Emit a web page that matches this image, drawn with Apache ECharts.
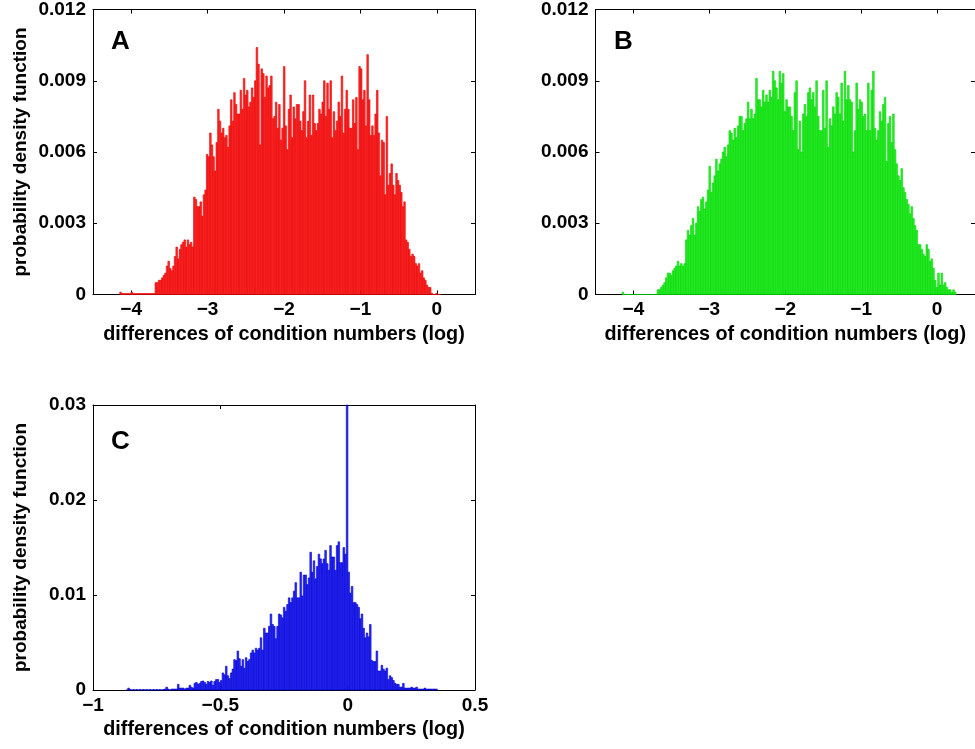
<!DOCTYPE html>
<html>

<head>
  <meta charset="utf-8">
  <title>condition numbers</title>
  <script src="https://cdn.jsdelivr.net/npm/echarts@6/dist/echarts.min.js"></script>
  <style>
    html, body { margin: 0; padding: 0; background: #fff; }
    #chart { width: 975px; height: 749px; }
  </style>
</head>

<body>
  <div id="chart"></div>
  <script type="text/javascript">
    // histogram A (red): 200 bins starting at -4.15
    var binStartA = -4.15, binWidthA = 0.021;
    var pdfA = [
      0.0001, 0.00004, 0.00004, 0.00004, 0.00004, 0.00004, 0.00004, 0.0001, 0.00004, 0.00004,
      0.00004, 0.00004, 0.00004, 0.00004, 0.00004, 0.00004, 0.00004, 0.00004, 0.00004, 0.00004,
      0.00004, 0.00004,
      0.0005, 0.0005, 0.0006, 0.0006, 0.0007, 0.0008, 0.0009, 0.0012, 0.0014, 0.0011,
      0.0010, 0.0012, 0.0016, 0.0020, 0.0015, 0.0019, 0.0021, 0.0022, 0.0023, 0.0020,
      0.0023, 0.0021, 0.0022, 0.0020,
      0.0041, 0.0040, 0.0037, 0.0037, 0.0039, 0.0033, 0.0042, 0.0044,
      0.0059, 0.0058, 0.0068, 0.0063, 0.0058, 0.0052, 0.0064, 0.0078, 0.0073, 0.0068,
      0.0070, 0.0066, 0.0067, 0.0062, 0.0071, 0.0082, 0.0073, 0.0085, 0.0080, 0.0076,
      0.0076, 0.0086, 0.0078, 0.0091, 0.0084, 0.0086, 0.0079, 0.0081, 0.0087, 0.0083,
      0.0090, 0.0104,
      0.0097, 0.0063, 0.0095, 0.0093, 0.0083, 0.0092, 0.0087, 0.0088, 0.0092, 0.0074,
      0.0075, 0.0081, 0.0070, 0.0080, 0.0065, 0.0070, 0.0096,
      0.0071, 0.0061, 0.0078, 0.0084, 0.0066, 0.0079, 0.0074, 0.0080, 0.0080, 0.0073,
      0.0069, 0.0077, 0.0090, 0.0066, 0.0073, 0.0084, 0.0067, 0.0084, 0.0072, 0.0069,
      0.0072, 0.0078, 0.0076, 0.0081, 0.0090, 0.0075, 0.0089, 0.0078, 0.0090, 0.0066,
      0.0077, 0.0069, 0.0073, 0.0081, 0.0075, 0.0092, 0.0068, 0.0078, 0.0086, 0.0078,
      0.0070, 0.0070, 0.0082, 0.0072, 0.0083, 0.0061, 0.0096, 0.0095,
      0.0082, 0.0086, 0.0071, 0.0101, 0.0082, 0.0067, 0.0071, 0.0067, 0.0076, 0.0086,
      0.0068, 0.0050, 0.0065, 0.0064, 0.0042, 0.0075, 0.0046, 0.0051, 0.0055, 0.0046,
      0.0042, 0.0051, 0.0048, 0.0046, 0.0043, 0.0037, 0.0039,
      0.0023, 0.0022, 0.0019, 0.0016, 0.0017, 0.0016, 0.0013, 0.0012, 0.0013, 0.0009,
      0.0010, 0.0007, 0.0006, 0.0004, 0.0003, 0.0003,
      0.00005, 0, 0, 0.00005, 0, 0
    ];

    // histogram B (green): 200 bins starting at -4.15
    var binStartB = -4.15, binWidthB = 0.022;
    var pdfB = [
      0.0001, 0, 0, 0, 0, 0, 0, 0, 0, 0,
      0, 0, 0, 0, 0, 0, 0, 0, 0, 0,
      0,
      0.0002, 0.0002, 0.0003, 0.0004, 0.0005, 0.0007, 0.0009, 0.0009, 0.0008, 0.0010,
      0.0011, 0.0012, 0.0014, 0.0012, 0.0013, 0.0012, 0.0013,
      0.0023, 0.0027, 0.0025, 0.0029, 0.0032, 0.0025, 0.0030, 0.0037, 0.0035, 0.0040,
      0.0041, 0.0036, 0.0039, 0.0044,
      0.0054, 0.0043, 0.0047, 0.0050, 0.0057, 0.0052, 0.0055, 0.0057, 0.0060, 0.0062,
      0.0058, 0.0063, 0.0069, 0.0068, 0.0065, 0.0070, 0.0066, 0.0071, 0.0075, 0.0075,
      0.0069, 0.0072, 0.0074, 0.0081, 0.0074, 0.0078, 0.0074, 0.0076,
      0.0091, 0.0082, 0.0082, 0.0079, 0.0086, 0.0081, 0.0084, 0.0081, 0.0086, 0.0083,
      0.0094, 0.0090, 0.0087, 0.0082,
      0.0094, 0.0089, 0.0093, 0.0077, 0.0082, 0.0079, 0.0079, 0.0075, 0.0069, 0.0085,
      0.0090, 0.0061, 0.0073, 0.0060, 0.0076, 0.0080, 0.0075, 0.0085, 0.0087, 0.0082,
      0.0085, 0.0079, 0.0090, 0.0075, 0.0069, 0.0069, 0.0086, 0.0070, 0.0090, 0.0062,
      0.0074, 0.0071, 0.0079, 0.0076, 0.0085, 0.0083, 0.0076, 0.0089, 0.0073, 0.0094,
      0.0082, 0.0088, 0.0082, 0.0081, 0.0060, 0.0069, 0.0089, 0.0078, 0.0082, 0.0081,
      0.0075, 0.0076, 0.0069, 0.0089, 0.0069, 0.0086, 0.0094, 0.0070, 0.0065, 0.0069,
      0.0077, 0.0073, 0.0080, 0.0083, 0.0056, 0.0072, 0.0075, 0.0064, 0.0076,
      0.0061, 0.0055, 0.0050, 0.0048, 0.0053, 0.0045, 0.0043, 0.0040, 0.0038, 0.0034,
      0.0037, 0.0032, 0.0029, 0.0027, 0.0021, 0.0021, 0.0019, 0.0017, 0.0016, 0.0021,
      0.0019, 0.0014, 0.0015, 0.0011, 0.0006, 0.0003, 0.0009, 0.0004, 0.0009, 0.0004,
      0.0005, 0.0003, 0.0002, 0.0002, 0.0001, 0.0002, 0.0001
    ];

    // histogram C (blue): bins starting at -0.87
    var binStartC = -0.87, binWidthC = 0.0065;
    var pdfC = [
      0, 0.0002, 0.00005, 0, 0.00005, 0, 0.00005, 0, 0.00005, 0,
      0.00005, 0, 0.00005, 0, 0.00005, 0, 0.00005, 0, 0.00005, 0,
      0.00005, 0, 0.00005, 0.0001, 0.0003, 0.0001, 0, 0.0001, 0.0001, 0.0001,
      0.0001, 0.0006, 0.0002, 0.0002, 0.0002, 0.0001, 0.0002, 0.0002, 0.0005, 0.0003,
      0.0002, 0.0007, 0.0008, 0.0006, 0.0007, 0.0009, 0.00095, 0.0008, 0.0006, 0.0009,
      0.0008, 0.00095, 0.0005, 0.0009, 0.0011, 0.0011, 0.0008, 0.0010, 0.0018, 0.0016,
      0.0025, 0.0015, 0.0012, 0.0018, 0.0022, 0.0032, 0.0031, 0.0041, 0.0033, 0.0025,
      0.0032, 0.0023, 0.0034, 0.0030, 0.0032, 0.0039, 0.0042, 0.0039, 0.0044, 0.0042,
      0.0044, 0.0055, 0.0042, 0.0065, 0.0060, 0.0060, 0.0067, 0.0080, 0.0069, 0.0067,
      0.0054, 0.0067, 0.0080, 0.0079, 0.0076, 0.0087, 0.0083, 0.0090, 0.0097, 0.0092,
      0.0097, 0.0104, 0.0113, 0.0097, 0.0097, 0.0124, 0.0099, 0.0121, 0.0121, 0.0111,
      0.0118, 0.0145, 0.0124, 0.0136, 0.0117, 0.0130, 0.0143, 0.0138, 0.0133, 0.0138,
      0.0147, 0.0133, 0.0126, 0.0152, 0.0140, 0.0140, 0.0126, 0.0152, 0.0156, 0.0134,
      0.0134, 0.0150, 0.0143, 0.0300, 0.0124, 0.0102, 0.0109, 0.0092, 0.0092, 0.0090,
      0.0087, 0.0075, 0.0080, 0.0065, 0.0055, 0.0060, 0.0056, 0.0069, 0.0031, 0.0030,
      0.0030, 0.0041, 0.0020, 0.0020, 0.0026, 0.0022, 0.0020, 0.0023, 0.0011, 0.0015,
      0.0013, 0.0010, 0.0007, 0.0006, 0.0006, 0.0003, 0.0003, 0.0007, 0.0002, 0.0002,
      0.0002, 0.0002, 0.0003, 0.0002, 0.0002, 0.0003, 0.0001, 0.0001, 0.0001, 0.0001,
      0.0002, 0.0001, 0.0001, 0.0001, 0.0001, 0.0001, 0.0001, 0.0001
    ];

    var xTicksAB = [-4, -3, -2, -1, 0];
    var xTicksC = [-1, -0.5, 0, 0.5];
    var yTicksAB = [0, 0.003, 0.006, 0.009, 0.012];
    var yTicksC = [0, 0.01, 0.02, 0.03];

    var xName = 'differences of condition numbers (log)';
    var yName = 'probability density function';
    var fontFam = 'Liberation Sans, Arial, sans-serif';

    // [left edge, right edge, value] for every bin
    function makeBins(start, width, values) {
      var out = [];
      for (var i = 0; i < values.length; i++) {
        out.push([start + i * width, start + (i + 1) * width, values[i]]);
      }
      return out;
    }

    function fmtX(v) {
      return v < 0 ? '\u2212' + (-v) : String(v);
    }

    function xAxisPair(grid, min, max, ticks) {
      var base = {
        gridIndex: grid, type: 'value', min: min, max: max,
        axisLine: { onZero: false, lineStyle: { color: '#000', width: 1 } },
        axisTick: { inside: true, length: 4, customValues: ticks, lineStyle: { color: '#000' } },
        splitLine: { show: false }
      };
      var bottom = echarts.util.merge({
        position: 'bottom',
        name: xName, nameLocation: 'middle', nameGap: 30,
        nameTextStyle: { fontFamily: fontFam, fontWeight: 'bold', fontSize: 19.8, color: '#000' },
        axisLabel: {
          customValues: ticks, margin: 6, formatter: fmtX,
          fontFamily: fontFam, fontWeight: 'bold', fontSize: 19, color: '#000'
        }
      }, base, true);
      var top = echarts.util.merge({ position: 'top', axisLabel: { show: false } }, base, true);
      return [bottom, top];
    }

    function yAxisPair(grid, max, ticks, digits, withName) {
      var base = {
        gridIndex: grid, type: 'value', min: 0, max: max,
        axisLine: { onZero: false, lineStyle: { color: '#000', width: 1 } },
        axisTick: { inside: true, length: 4, customValues: ticks, lineStyle: { color: '#000' } },
        splitLine: { show: false }
      };
      var left = echarts.util.merge({
        position: 'left',
        axisLabel: {
          customValues: ticks, margin: 7,
          formatter: function (v) { return v === 0 ? '0' : v.toFixed(digits); },
          fontFamily: fontFam, fontWeight: 'bold', fontSize: 19, color: '#000'
        }
      }, base, true);
      if (withName) {
        left.name = yName;
        left.nameLocation = 'middle';
        left.nameGap = 63;
        left.nameTextStyle = { fontFamily: fontFam, fontWeight: 'bold', fontSize: 19, color: '#000' };
      }
      var right = echarts.util.merge({ position: 'right', axisLabel: { show: false } }, base, true);
      return [left, right];
    }

    function histSeries(xi, yi, data, fill, stroke) {
      return {
        type: 'custom',
        coordinateSystem: 'cartesian2d',
        xAxisIndex: xi, yAxisIndex: yi,
        data: data,
        encode: { x: [0, 1], y: 2 },
        silent: true,
        renderItem: function (params, api) {
          var a = api.coord([api.value(0), api.value(2)]);
          var b = api.coord([api.value(1), 0]);
          return {
            type: 'rect',
            shape: { x: a[0], y: a[1], width: b[0] - a[0], height: b[1] - a[1] },
            style: { fill: fill, stroke: stroke, lineWidth: 0.6 }
          };
        }
      };
    }

    var xa = xAxisPair(0, -4.5, 0.5, xTicksAB);
    var xb = xAxisPair(1, -4.5, 0.5, xTicksAB);
    var xc = xAxisPair(2, -1, 0.5, xTicksC);
    var ya = yAxisPair(0, 0.012, yTicksAB, 3, true);
    var yb = yAxisPair(1, 0.012, yTicksAB, 3, false);
    var yc = yAxisPair(2, 0.03, yTicksC, 2, true);

    var letterStyle = { fontFamily: fontFam, fontWeight: 'bold', fontSize: 26, fill: '#000' };

    var option = {
      backgroundColor: '#fff',
      animation: false,
      grid: [
        { left: 93, top: 9, width: 382, height: 285.5 },
        { left: 595.5, top: 9, width: 381.5, height: 285.5 },
        { left: 93, top: 405, width: 382, height: 285 }
      ],
      xAxis: xa.concat(xb, xc),
      yAxis: ya.concat(yb, yc),
      graphic: [
        { type: 'text', left: 111, top: 29, style: echarts.util.extend({ text: 'A' }, letterStyle) },
        { type: 'text', left: 614, top: 29, style: echarts.util.extend({ text: 'B' }, letterStyle) },
        { type: 'text', left: 111, top: 429, style: echarts.util.extend({ text: 'C' }, letterStyle) }
      ],
      series: [
        histSeries(0, 0, makeBins(binStartA, binWidthA, pdfA), '#ff2a2a', '#e60000'),
        histSeries(2, 2, makeBins(binStartB, binWidthB, pdfB), '#2df02d', '#00d400'),
        histSeries(4, 4, makeBins(binStartC, binWidthC, pdfC), '#2a2aff', '#0000c8')
      ]
    };

    var myChart = echarts.init(document.getElementById('chart'));
    myChart.setOption(option);
  </script>
</body>

</html>
